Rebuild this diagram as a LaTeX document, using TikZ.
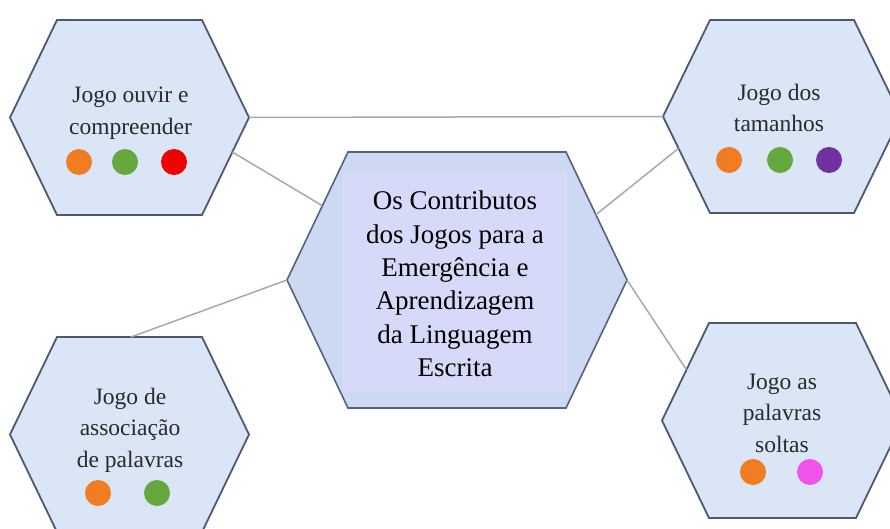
\documentclass[tikz,border=0pt]{standalone}
\usepackage{fontspec}
\setmainfont{Liberation Serif}
\newfontfamily\tms{Liberation Serif}
\usetikzlibrary{calc}
\definecolor{hexfill}{HTML}{DAE5F5}
\definecolor{cfill}{HTML}{CDD8F1}
\definecolor{innerc}{HTML}{D6D9F8}
\definecolor{hexline}{HTML}{4F5871}
\definecolor{chexline}{HTML}{56627F}
\definecolor{conn}{HTML}{A4A9B8}
\definecolor{dorange}{HTML}{F07D22}
\definecolor{dgreen}{HTML}{66A83E}
\definecolor{dred}{HTML}{F00000}
\definecolor{dpurple}{HTML}{7030A0}
\definecolor{dpink}{HTML}{F052EA}
\definecolor{txt}{HTML}{2A2A2A}
\newcommand\hexa[7]{%
  \coordinate (#1) at (#2,#3);
  \coordinate (#1-w) at ({#2-#4},#3);
  \coordinate (#1-e) at ({#2+#4},#3);
  \coordinate (#1-nw) at ({#2-#4+#6},{#3-#5});
  \coordinate (#1-ne) at ({#2+#4-#6},{#3-#5});
  \coordinate (#1-sw) at ({#2-#4+#6},{#3+#5});
  \coordinate (#1-se) at ({#2+#4-#6},{#3+#5});
  \draw[#7] (#1-w) -- (#1-nw) -- (#1-ne) -- (#1-e) -- (#1-se) -- (#1-sw) -- cycle;
}
\tikzset{
  hexstyle/.style={draw=hexline, line width=1.8pt, fill=hexfill, line join=miter},
  chexstyle/.style={draw=chexline, line width=1.6pt, fill=cfill, line join=miter},
  connector/.style={draw=conn, line width=1.5pt},
  outertext/.style={align=center, text=txt, font=\tms\fontsize{23.5}{31.5}\selectfont, inner sep=0pt},
  centertext/.style={align=center, text=black, font=\tms\fontsize{27}{33.3}\selectfont, inner sep=0pt},
  dot/.style={circle, minimum size=26pt, inner sep=0pt, fill=#1}
}
\begin{document}
\begin{tikzpicture}[x=1pt,y=-1pt]
\useasboundingbox (0,0) rectangle (890,529);
\clip (0,0) rectangle (890,529);
\fill[white] (0,0) rectangle (890,529);
% hexagons
\hexa{tl}{129.5}{117.5}{119.5}{97.5}{47}{hexstyle}
\hexa{tr}{782}{116.5}{119}{96.5}{47}{hexstyle}
\hexa{bl}{129.5}{434.5}{119.5}{97.5}{47}{hexstyle}
\hexa{br}{782.5}{420.5}{120.5}{97.5}{47}{hexstyle}
\hexa{c}{457}{280}{170}{128}{61}{chexstyle}
% connectors
\coordinate (p1) at ($(tl-e)!0.354!(tl-se)$);
\coordinate (p2) at ($(c-w)!0.58!(c-nw)$);
\coordinate (p3) at ($(tr-w)!0.33!(tr-sw)$);
\coordinate (p4) at ($(c-e)!0.51!(c-ne)$);
\coordinate (p5) at ($(bl-nw)!0.51!(bl-ne)$);
\coordinate (p6) at ($(br-w)!0.52!(br-nw)$);
\draw[connector] (tl-e) -- (tr-w);
\draw[connector] (p1) -- (p2);
\draw[connector] (p3) -- (p4);
\draw[connector] (p5) -- (c-w);
\draw[connector] (c-e) -- (p6);
% inner rectangle of the centre
\fill[innerc] (342,172) rectangle (567,392);
% texts
\node[centertext] (ct) at (455,284) {Os Contributos\\dos Jogos para a\\Emergência e\\Aprendizagem\\da Linguagem\\Escrita};
\node[outertext] (tlt) at (130.5,113) {Jogo ouvir e\\compreender};
\node[outertext] (trt) at (779,108) {Jogo dos\\tamanhos};
\node[outertext] (blt) at (130,430) {Jogo de\\associação\\de palavras};
\node[outertext] (brt) at (782,413) {Jogo as\\palavras\\soltas};
% dots
\node[dot=dorange] (d1) at (79,162) {};
\node[dot=dgreen] (d2) at (125,162) {};
\node[dot=dred] (d3) at (174,162) {};
\node[dot=dorange] (d4) at (729,160) {};
\node[dot=dgreen] (d5) at (780,160) {};
\node[dot=dpurple] (d6) at (829,160) {};
\node[dot=dorange] (d7) at (98,493) {};
\node[dot=dgreen] (d8) at (157,493) {};
\node[dot=dorange] (d9) at (753,472) {};
\node[dot=dpink] (d10) at (810,472) {};
\end{tikzpicture}
\end{document}
